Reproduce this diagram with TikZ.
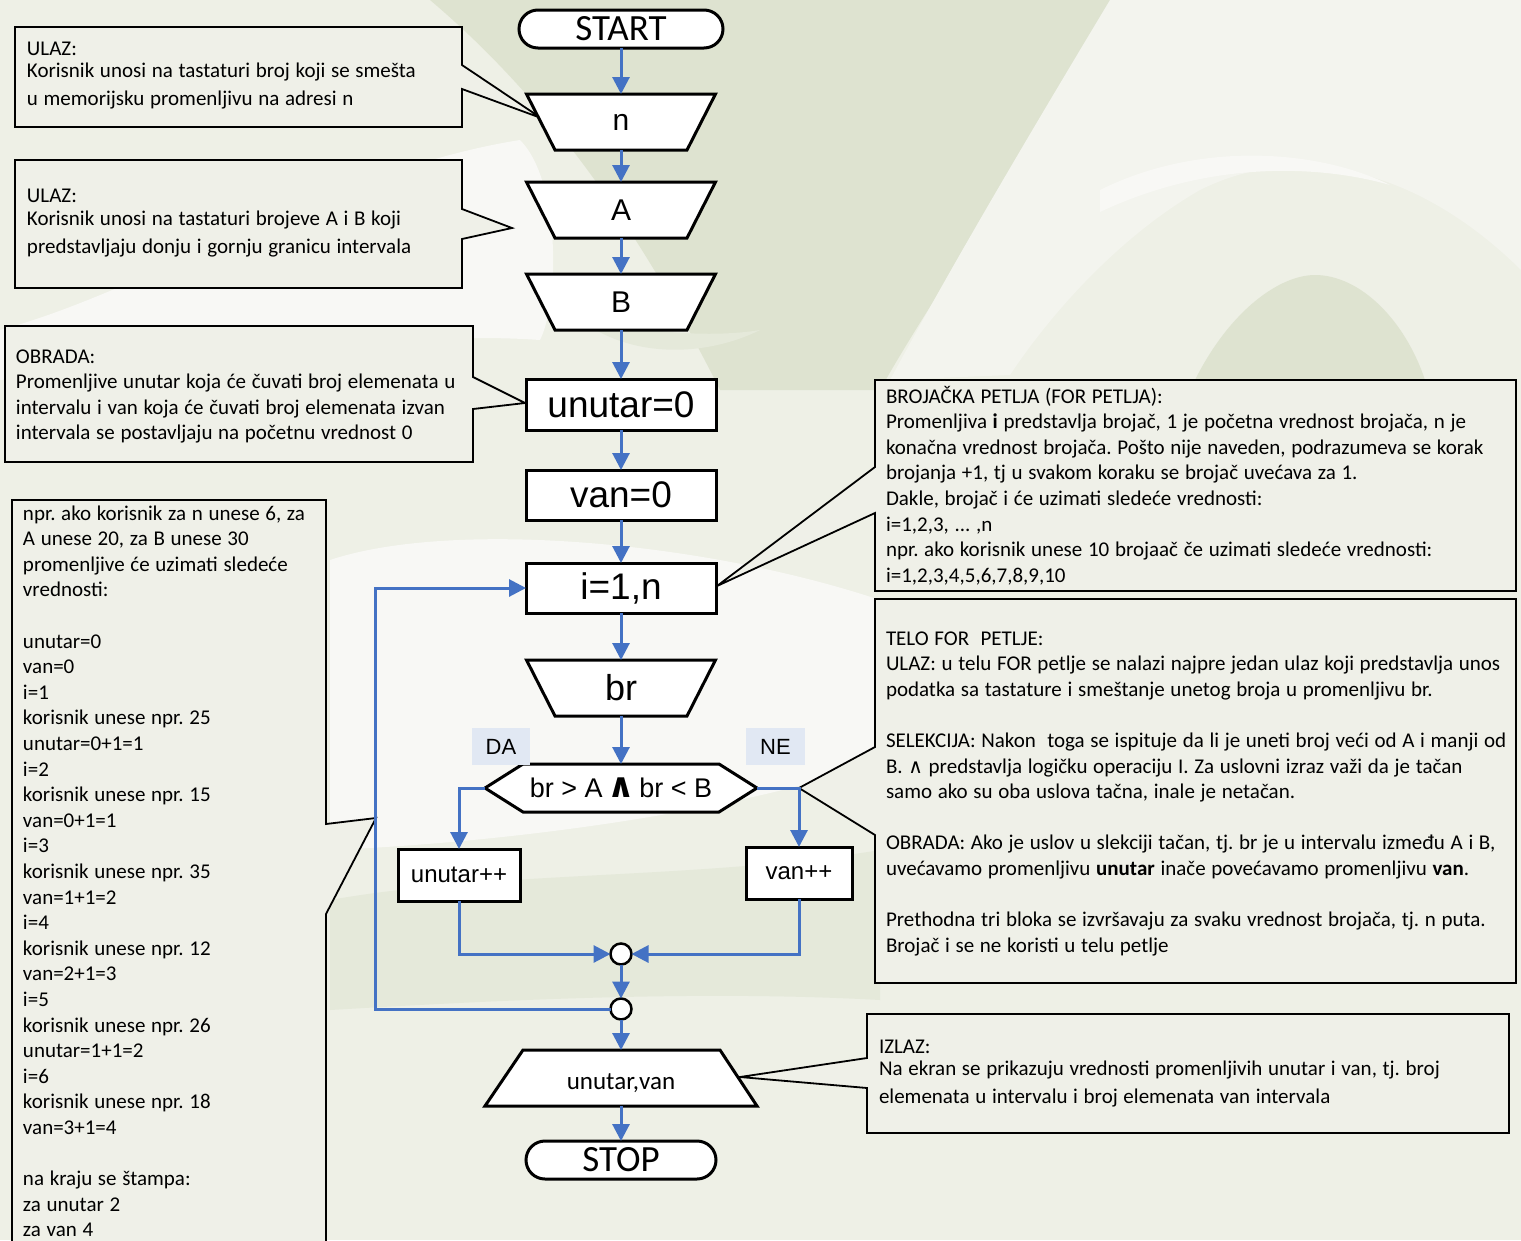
\documentclass[tikz,border=0pt]{standalone}
\usepackage{fontspec}
\setmainfont{Carlito}
\newfontfamily\sansf{Liberation Sans}
\newfontfamily\symf{DejaVu Sans}
\usetikzlibrary{shapes.misc,arrows.meta,calc}
\frenchspacing

\definecolor{bgbase}{HTML}{EEF0E6}
\definecolor{bglight}{HTML}{F3F4EE}
\definecolor{bgwhite}{HTML}{F8F8F5}
\definecolor{bgdark}{HTML}{DEE3D0}
\definecolor{bgmid}{HTML}{E5E9DA}
\definecolor{notefill}{HTML}{EFF0E8}
\definecolor{flowblue}{HTML}{4472C4}
\definecolor{tagfill}{HTML}{E1E8F3}

% input shapes (wide top, narrow bottom), centred at x=621
\newcommand{\inshape}[1]{\draw[shapeline] (526.5,#1-28) -- (715.5,#1-28) -- (687,#1+28) -- (555,#1+28) -- cycle;}

\begin{document}
\begin{tikzpicture}[x=1pt,y=-1pt,
  every node/.style={inner sep=0pt, outer sep=0pt},
  shapeline/.style={draw=black, line width=3pt, fill=white},
  proc/.style={shapeline, minimum width=190pt, minimum height=51pt, font=\sansf\fontsize{37}{40}\selectfont},
  iotext/.style={minimum width=189pt, minimum height=56pt, font=\sansf\fontsize{30}{34}\selectfont},
  term/.style={shapeline, rounded rectangle, minimum height=38pt, font=\fontsize{37}{40}\selectfont},
  jn/.style={circle, draw=black, line width=2.5pt, fill=white, minimum size=21pt},
  tag/.style={fill=tagfill, font=\sansf\fontsize{22}{24}\selectfont},
  flow/.style={draw=flowblue, line width=3pt, -{Triangle[width=17pt,length=17pt]}},
  note/.style={draw=black, line width=1.8pt, fill=notefill, line join=miter},
  notetext/.style={anchor=base west, align=left, text width=660pt,
    font=\fontsize{21}{25.6}\selectfont,
    execute at begin node={\spaceskip=0.27em plus 0.05em\relax}},
]
\useasboundingbox (0,0) rectangle (1521,1240);
\clip (0,0) rectangle (1521,1240);

% ---------- decorative background ----------
\fill[bgbase] (0,0) rectangle (1521,1240);
\fill[bgdark] (430,0) -- (1130,0) .. controls (1040,140) and (930,300) .. (880,390)
  -- (720,390) .. controls (650,250) and (560,110) .. (430,0) -- cycle;
\fill[bglight] (1110,0) -- (1521,0) -- (1521,270) .. controls (1420,170) and (1300,140) .. (1200,190)
  .. controls (1130,230) and (1060,300) .. (1010,375) -- (890,380)
  .. controls (960,250) and (1050,100) .. (1110,0) -- cycle;
\fill[bgdark] (1195,380) .. controls (1230,310) and (1280,275) .. (1315,275)
  .. controls (1360,275) and (1405,320) .. (1425,380) -- cycle;
\fill[bgwhite] (1100,190) .. controls (1200,140) and (1320,150) .. (1390,185)
  .. controls (1320,165) and (1210,160) .. (1100,212) -- cycle;
\fill[bgwhite] (0,330) .. controls (150,290) and (330,170) .. (520,140)
  .. controls (560,180) and (560,300) .. (540,340)
  .. controls (400,330) and (200,360) .. (0,380) -- cycle;
\fill[bgwhite] (330,560) .. controls (450,520) and (700,540) .. (880,600)
  -- (880,760) .. controls (780,800) and (560,840) .. (330,850) -- cycle;
\fill[bgmid] (330,900) .. controls (500,870) and (700,880) .. (880,850)
  -- (880,1000) .. controls (700,990) and (500,1000) .. (330,1010) -- cycle;
\fill[bgmid] (560,300) .. controls (600,330) and (700,340) .. (760,330)
  .. controls (700,360) and (610,360) .. (560,300) -- cycle;

% ---------- callouts ----------
\draw[note] (15,27) -- (462,27) -- (462,65) -- (541,118) -- (462,89) -- (462,127) -- (15,127) -- cycle;
\draw[note] (15,160) -- (462,160) -- (462,209) -- (512,228) -- (462,239) -- (462,288) -- (15,288) -- cycle;
\draw[note] (5,326) -- (473,326) -- (473,377) -- (525,403) -- (473,409) -- (473,462) -- (5,462) -- cycle;
\draw[note] (12,500) -- (326,500) -- (326,824) -- (376,818) -- (326,914) -- (326,1250) -- (12,1250) -- cycle;
\draw[note] (875,380) -- (1516,380) -- (1516,591) -- (875,591) -- (875,513) -- (717,586) -- (875,467) -- cycle;
\draw[note] (875,599) -- (1516,599) -- (1516,983) -- (875,983) -- (875,835) -- (799,788) -- (875,747) -- cycle;
\draw[note] (867,1014) -- (1509,1014) -- (1509,1133) -- (867,1133) -- (867,1088) -- (740,1077) -- (867,1058) -- cycle;

\node[notetext] (note1) at (27,55) {ULAZ:\\[-3.6pt]Korisnik unosi na tastaturi broj koji se smešta\\[2.4pt]u memorijsku promenljivu na adresi n};
\node[notetext] (note2) at (27,202) {ULAZ:\\[-2.6pt]Korisnik unosi na tastaturi brojeve A i B koji\\[2.4pt]predstavljaju donju i gornju granicu intervala};
\node[notetext] (note3) at (16,363) {OBRADA:\\Promenljive unutar koja će čuvati broj elemenata u\\intervalu i van koja će čuvati broj elemenata izvan\\intervala se postavljaju na početnu vrednost 0};
\node[notetext] (note4) at (23,520) {npr. ako korisnik za n unese 6, za\\A unese 20, za B unese 30\\promenljive će uzimati sledeće\\vrednosti:\\[25.6pt]unutar=0\\van=0\\i=1\\korisnik unese npr. 25\\unutar=0+1=1\\i=2\\korisnik unese npr. 15\\van=0+1=1\\i=3\\korisnik unese npr. 35\\van=1+1=2\\i=4\\korisnik unese npr. 12\\van=2+1=3\\i=5\\korisnik unese npr. 26\\unutar=1+1=2\\i=6\\korisnik unese npr. 18\\van=3+1=4\\[25.6pt]na kraju se štampa:\\za unutar 2\\za van 4};
\node[notetext] (note5) at (886,403) {BROJAČKA PETLJA (FOR PETLJA):\\Promenljiva {\bfseries i} predstavlja brojač, 1 je početna vrednost brojača, n je\\konačna vrednost brojača. Pošto nije naveden, podrazumeva se korak\\brojanja +1, tj u svakom koraku se brojač uvećava za 1.\\Dakle, brojač i će uzimati sledeće vrednosti:\\i=1,2,3, ... ,n\\npr. ako korisnik unese 10 brojaač če uzimati sledeće vrednosti:\\i=1,2,3,4,5,6,7,8,9,10};
\node[notetext] (note6) at (886,645) {TELO FOR\ \ PETLJE:\\ULAZ: u telu FOR petlje se nalazi najpre jedan ulaz koji predstavlja unos\\podatka sa tastature i smeštanje unetog broja u promenljivu br.\\[25.6pt]SELEKCIJA: Nakon\ \ toga se ispituje da li je uneti broj veći od A i manji od\\B. {\symf\fontsize{20}{20}\selectfont ∧} predstavlja logičku operaciju I. Za uslovni izraz važi da je tačan\\samo ako su oba uslova tačna, inale je netačan.\\[25.6pt]OBRADA: Ako je uslov u slekciji tačan, tj. br je u intervalu između A i B,\\uvećavamo promenljivu {\bfseries unutar} inače povećavamo promenljivu {\bfseries van}.\\[25.6pt]Prethodna tri bloka se izvršavaju za svaku vrednost brojača, tj. n puta.\\Brojač i se ne koristi u telu petlje};
\node[notetext] (note7) at (879,1053) {IZLAZ:\\[-3.6pt]Na ekran se prikazuju vrednosti promenljivih unutar i van, tj. broj\\[2.4pt]elemenata u intervalu i broj elemenata van intervala};

% ---------- flowchart shapes ----------
\node[term, minimum width=204pt] (start) at (621,29) {START};
\inshape{122}
\node[iotext] (n) at (621,122) {n};
\inshape{210}
\node[iotext] (a) at (621,210) {A};
\inshape{302}
\node[iotext] (b) at (621,302) {B};
\node[proc] (u0) at (621,404.5) {unutar=0};
\node[proc, minimum height=50pt] (v0) at (621,495) {van=0};
\node[proc, minimum height=50pt] (loop) at (621,588) {i=1,n};
\inshape{688}
\node[iotext, font=\sansf\fontsize{36}{40}\selectfont] (br) at (621,688) {br};
\draw[shapeline] (485,788) -- (523,764) -- (719,764) -- (757,788) -- (719,812) -- (523,812) -- cycle;
\node[minimum width=272pt, minimum height=48pt, font=\sansf\fontsize{27}{30}\selectfont] (dec) at (621,788) {br > A\,{\symf\bfseries\fontsize{34}{34}\selectfont ∧}\,br < B};
\node[tag, minimum width=58pt, minimum height=37pt] (da) at (501,746.5) {DA};
\node[tag, minimum width=59pt, minimum height=37pt] (ne) at (775.5,746.5) {NE};
\node[proc, minimum width=122pt, minimum height=52pt, font=\sansf\fontsize{24}{28}\selectfont] (uinc) at (459,875) {unutar++};
\node[proc, minimum width=106pt, minimum height=52pt, font=\sansf\fontsize{24}{28}\selectfont] (vinc) at (799,873) {van++};
\node[jn] (j1) at (621,954) {};
\node[jn] (j2) at (621,1009) {};
\coordinate (lb) at (375,1009);
\draw[shapeline] (523,1050) -- (720,1050) -- (757,1106) -- (485,1106) -- cycle;
\node[minimum width=272pt, minimum height=56pt, text height=25pt, text depth=3pt, font=\fontsize{25}{28}\selectfont] (out) at (621,1078) {unutar,van};
\node[term, minimum width=190pt] (stop) at (621,1160) {STOP};

% ---------- connectors ----------
\draw[flow] (start) -- (n);
\draw[flow] (n) -- (a);
\draw[flow] (a) -- (b);
\draw[flow] (b) -- (u0);
\draw[flow] (u0) -- (v0);
\draw[flow] (v0) -- (loop);
\draw[flow] (loop) -- (br);
\draw[flow] (br) -- (dec);
\draw[flow] (dec.west) -| (uinc);
\draw[flow] (dec.east) -| (vinc);
\draw[flow] (uinc) |- (j1);
\draw[flow] (vinc) |- (j1);
\draw[flow] (j1) -- (j2);
\draw[flow] (j2) -- (lb) |- (loop);
\draw[flow] (j2) -- (out);
\draw[flow] (out) -- (stop);
\end{tikzpicture}
\end{document}
